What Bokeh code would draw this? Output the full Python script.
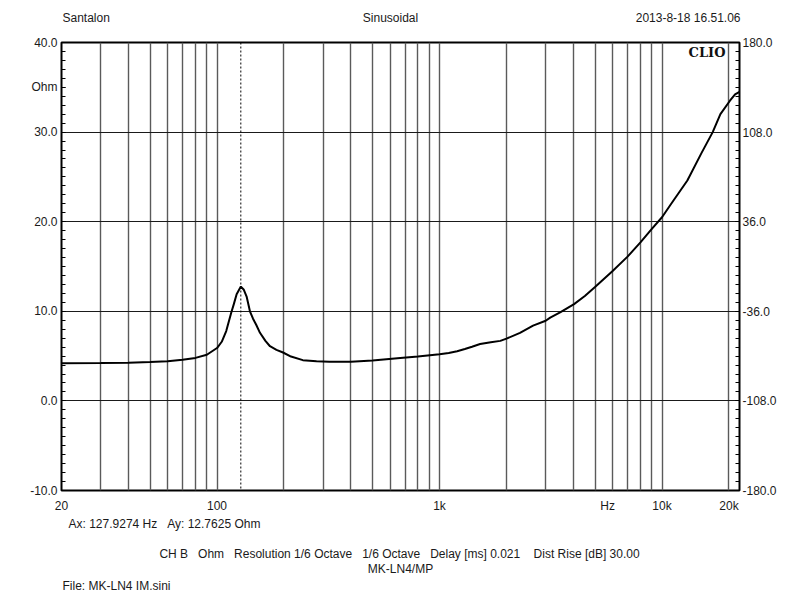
from bokeh.plotting import figure
from bokeh.models import (Range1d, LinearAxis, LogAxis, FixedTicker, Span, Label, Grid, LogScale)
from bokeh.layouts import column
from bokeh.core.properties import value
from bokeh.embed import file_html
from bokeh.resources import INLINE

# ---- data ----
freq_hz = [20, 30, 40, 50, 60, 70, 80, 90, 100, 105, 110, 116, 119, 122.5, 128,
           132, 136, 140.6, 145, 150, 156, 165, 173, 185, 198, 215, 243, 280, 320,
           400, 500, 666, 800, 1000, 1100, 1200, 1300, 1400, 1522, 1700, 1876, 2000, 2300, 2633,
           3000, 3145, 3500, 4025, 4500, 5000, 6000, 7000, 8000, 9000, 10000, 11000,
           13000, 15000, 16900, 18300, 20200, 21300, 22300]
impedance_ohm = [4.20, 4.22, 4.25, 4.33, 4.43, 4.58, 4.80, 5.15, 5.9, 6.6, 7.8, 9.9, 10.8, 11.9, 12.76,
                 12.4, 11.6, 10.0, 9.2, 8.5, 7.6, 6.7, 6.1, 5.7, 5.4, 4.95, 4.55, 4.42, 4.36,
                 4.36, 4.5, 4.8, 4.95, 5.2, 5.35, 5.55, 5.8, 6.05, 6.35, 6.55, 6.7, 6.95, 7.6, 8.4,
                 8.95, 9.3, 9.9, 10.8, 11.7, 12.7, 14.5, 16.1, 17.7, 19.2, 20.5, 22.0,
                 24.6, 27.6, 30.0, 32.0, 33.5, 34.2, 34.5]

cursor_hz = 127.9274
x_grid_hz = [30, 40, 50, 60, 70, 80, 90, 100, 200, 300, 400, 500, 600, 700, 800, 900,
             1000, 2000, 3000, 4000, 5000, 6000, 7000, 8000, 9000, 10000, 20000]
x_tick_hz = [20, 100, 1000, 5700, 10000, 20000]
x_tick_labels = {20: "20", 100: "100", 1000: "1k", 5700: "Hz", 10000: "10k", 20000: "20k"}
y_ticks = [-10, 0, 10, 20, 30, 35, 40]
y_tick_labels = {-10: "-10.0", 0: "0.0", 10: "10.0", 20: "20.0", 30: "30.0", 35: "Ohm", 40: "40.0"}
y_grid = [0, 10, 20, 30]
y_minor = [v for v in range(-10, 41)]
phase_ticks = [-180, -108, -36, 36, 108, 180]
phase_tick_labels = {-180: "-180.0", -108: "-108.0", -36: "-36.0", 36: "36.0", 108: "108.0", 180: "180.0"}
phase_minor = [-180 + 7.2 * i for i in range(51)]

header_texts = ["Santalon", "Sinusoidal", "2013-8-18 16.51.06"]
cursor_text = "Ax: 127.9274 Hz\u00a0\u00a0\u00a0Ay: 12.7625 Ohm"
settings_text = ("CH B\u00a0\u00a0\u00a0Ohm\u00a0\u00a0\u00a0Resolution 1/6 Octave\u00a0\u00a0\u00a0"
                 "1/6 Octave\u00a0\u00a0\u00a0Delay [ms] 0.021\u00a0\u00a0\u00a0\u00a0Dist Rise [dB] 30.00")
device_text = "MK-LN4/MP"
file_text = "File: MK-LN4 IM.sini"

FONT = "Liberation Sans"
TXT = "#1a1a1a"
HEADER_H = 30
MAIN_H = 485
FOOTER_H = 600 - HEADER_H - MAIN_H


def text_fig(h):
    f = figure(width=800, height=h, x_range=Range1d(0, 800), y_range=Range1d(h, 0),
               output_backend="svg", toolbar_location=None, min_border=0,
               x_axis_location=None, y_axis_location=None, frame_align=False)
    f.xgrid.visible = False
    f.ygrid.visible = False
    f.outline_line_color = None
    f.background_fill_color = "white"
    f.border_fill_color = "white"
    return f


def txt(f, x, y, s, align="left"):
    f.text(x=[x], y=[y], text=[s], text_align=align, text_baseline="middle",
           text_font=value(FONT), text_font_size="12px", text_color=TXT)


# ---- header ----
hdr = text_fig(HEADER_H)
txt(hdr, 62, 17, header_texts[0])
txt(hdr, 390, 17, header_texts[1], "center")
txt(hdr, 740, 17, header_texts[2], "right")

# ---- main plot ----
p = figure(width=800, height=MAIN_H, x_axis_type=None, y_axis_location=None,
           x_range=Range1d(20, 22300), y_range=Range1d(-10, 40),
           output_backend="svg", toolbar_location=None, frame_align=False,
           min_border_left=61, min_border_right=61, min_border_top=12, min_border_bottom=25)
p.x_scale = LogScale()
p.xgrid.visible = False
p.ygrid.visible = False
p.background_fill_color = "white"
p.border_fill_color = "white"
p.outline_line_color = "black"
p.outline_line_width = 2

p.extra_y_ranges = {"phase": Range1d(-180, 180)}

xa = LogAxis(ticker=FixedTicker(ticks=x_tick_hz, minor_ticks=[]))
xa.major_label_overrides = x_tick_labels
xa.major_tick_in = 0
xa.major_tick_out = 0
xa.minor_tick_in = 0
xa.minor_tick_out = 0
xa.axis_line_color = None
xa.major_label_standoff = 8
xa.major_label_text_font = FONT
xa.major_label_text_font_size = "12px"
xa.major_label_text_color = TXT
p.add_layout(xa, "below")

ya = LinearAxis(ticker=FixedTicker(ticks=y_ticks, minor_ticks=y_minor))
ya.major_label_overrides = y_tick_labels
ya.major_tick_in = 4
ya.major_tick_out = 0
ya.minor_tick_in = 4
ya.minor_tick_out = 0
ya.axis_line_color = None
ya.major_label_standoff = 4
ya.major_label_text_font = FONT
ya.major_label_text_font_size = "12px"
ya.major_label_text_color = TXT
p.add_layout(ya, "left")

ra = LinearAxis(y_range_name="phase", ticker=FixedTicker(ticks=phase_ticks, minor_ticks=phase_minor))
ra.major_label_overrides = phase_tick_labels
ra.major_tick_in = 4
ra.major_tick_out = 0
ra.minor_tick_in = 4
ra.minor_tick_out = 0
ra.axis_line_color = None
ra.major_label_standoff = 3
ra.major_label_text_font = FONT
ra.major_label_text_font_size = "12px"
ra.major_label_text_color = TXT
p.add_layout(ra, "right")

p.add_layout(Grid(dimension=0, ticker=FixedTicker(ticks=x_grid_hz),
                  grid_line_color="#5a5a5a", grid_line_width=1.4))
p.add_layout(Grid(dimension=1, ticker=FixedTicker(ticks=y_grid),
                  grid_line_color="#1a1a1a", grid_line_width=1))

p.add_layout(Span(location=cursor_hz, dimension="height", line_color="black",
                  line_width=1, line_dash="2 2"))

p.line(freq_hz, impedance_ohm, line_color="black", line_width=2)

p.add_layout(Label(x=664, y=438, x_units="screen", y_units="screen", text="CLIO",
                   text_align="right", text_baseline="middle", text_font="DejaVu Serif",
                   text_font_size="13px", text_font_style="bold", text_color="#111111"))

# ---- footer ----
ftr = text_fig(FOOTER_H)
txt(ftr, 68, 8, cursor_text)
txt(ftr, 399, 38, settings_text, "center")
txt(ftr, 400, 53, device_text, "center")
txt(ftr, 62, 70, file_text)

layout = column(hdr, p, ftr, spacing=0)
open("out.html", "w").write(file_html(layout, INLINE))
